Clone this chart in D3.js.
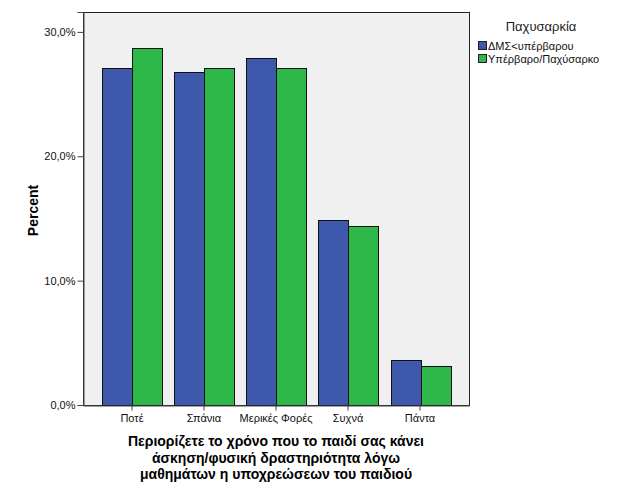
<!DOCTYPE html>
<html>
<head>
<meta charset="utf-8">
<script src="https://cdn.jsdelivr.net/npm/d3@7"></script>
<style>
  body { margin: 0; background: #fff; }
  svg text { font-family: "Liberation Sans", Arial, sans-serif; }
</style>
</head>
<body>
<div id="chart"></div>
<script>
// data
const categories = ["Ποτέ", "Σπάνια", "Μερικές Φορές", "Συχνά", "Πάντα"];
const seriesNames = ["ΔΜΣ<υπέρβαρου", "Υπέρβαρο/Παχύσαρκο"];
const normalValues = [27.1, 26.8, 27.9, 14.9, 3.6];
const overValues = [28.7, 27.1, 27.1, 14.4, 3.1];
const yTicks = [0, 10, 20, 30];
const xTitle = ["Περιορίζετε το χρόνο που το παιδί σας κάνει",
                "άσκηση/φυσική δραστηριότητα λόγω",
                "μαθημάτων η υποχρεώσεων του παιδιού"];

const colors = ["#3e58ac", "#2fb84a"];

const w = 627, h = 502;
const plotLeft = 83, plotTop = 12, plotRight = 469, plotBottom = 405;

const svg = d3.select("#chart")
  .append("svg")
  .attr("width", w)
  .attr("height", h);

// plot background
svg.append("rect")
  .attr("x", plotLeft + 0.5).attr("y", plotTop + 0.5)
  .attr("width", plotRight - plotLeft).attr("height", plotBottom - plotTop)
  .attr("fill", "#f0f0f0")
  .attr("stroke", "#222")
  .attr("stroke-width", 1);

const xScale = d3.scaleBand()
  .domain(categories)
  .range([plotLeft, plotRight])
  .paddingInner(0.18)
  .paddingOuter(0.27);

const inner = d3.scaleBand()
  .domain(seriesNames)
  .range([0, xScale.bandwidth()]);

const yScale = d3.scaleLinear()
  .domain([0, 31.6])
  .range([plotBottom, plotTop]);

const rows = categories.map((c, i) => ({cat: c, vals: [normalValues[i], overValues[i]]}));

const groups = svg.selectAll(".grp")
  .data(rows)
  .enter()
  .append("g")
  .attr("class", "grp")
  .attr("transform", d => `translate(${Math.round(xScale(d.cat))},0)`);

groups.selectAll("rect")
  .data(d => d.vals.map((v, j) => ({name: seriesNames[j], v: v, j: j})))
  .enter()
  .append("rect")
  .attr("x", d => Math.round(inner(d.name)) + 0.5)
  .attr("y", d => Math.round(yScale(d.v)) + 0.5)
  .attr("width", Math.round(inner.bandwidth()))
  .attr("height", d => plotBottom - Math.round(yScale(d.v)))
  .attr("fill", d => colors[d.j])
  .attr("stroke", "#111")
  .attr("stroke-width", 1);

// axes
const yAxis = d3.axisLeft(yScale)
  .tickValues(yTicks)
  .tickSize(6)
  .tickPadding(2)
  .tickFormat(d => d3.format(".1f")(d).replace(".", ",") + "%");

const gy = svg.append("g")
  .attr("transform", `translate(${plotLeft + 0.5},0)`)
  .call(yAxis);
gy.select(".domain").attr("stroke", "#444");
gy.selectAll(".tick line").attr("stroke", "#444");
gy.selectAll("text").style("font-size", "11px").attr("fill", "#111");

const xAxis = d3.axisBottom(xScale)
  .tickSize(5)
  .tickPadding(4)
  .tickSizeOuter(0);

const gx = svg.append("g")
  .attr("transform", `translate(0,${plotBottom + 0.5})`)
  .call(xAxis);
gx.select(".domain").attr("stroke", "#444");
gx.selectAll(".tick line").attr("stroke", "#444");
gx.selectAll("text").style("font-size", "11px").attr("fill", "#111");

// axis titles
svg.append("text")
  .attr("transform", `translate(38,${(plotTop + plotBottom) / 2 + 2}) rotate(-90)`)
  .attr("text-anchor", "middle")
  .style("font-size", "14px")
  .style("font-weight", "bold")
  .text("Percent");

svg.append("text")
  .attr("text-anchor", "middle")
  .style("font-size", "14px")
  .style("font-weight", "bold")
  .selectAll("tspan")
  .data(xTitle)
  .enter()
  .append("tspan")
  .attr("x", (plotLeft + plotRight) / 2)
  .attr("y", (d, i) => 446 + i * 16.5)
  .text(d => d);

// legend
svg.append("text")
  .attr("x", 541)
  .attr("y", 31)
  .attr("text-anchor", "middle")
  .style("font-size", "13px")
  .attr("fill", "#222")
  .text("Παχυσαρκία");

const legend = svg.selectAll(".leg")
  .data(seriesNames)
  .enter()
  .append("g")
  .attr("class", "leg")
  .attr("transform", (d, i) => `translate(478,${46 + i * 13})`);

legend.append("rect")
  .attr("x", 0.5).attr("y", -4.5)
  .attr("width", 8).attr("height", 8)
  .attr("fill", (d, i) => colors[i])
  .attr("stroke", "#222");

legend.append("text")
  .attr("x", 10)
  .attr("y", 4)
  .style("font-size", "11px")
  .attr("fill", "#111")
  .text(d => d);
</script>
</body>
</html>
